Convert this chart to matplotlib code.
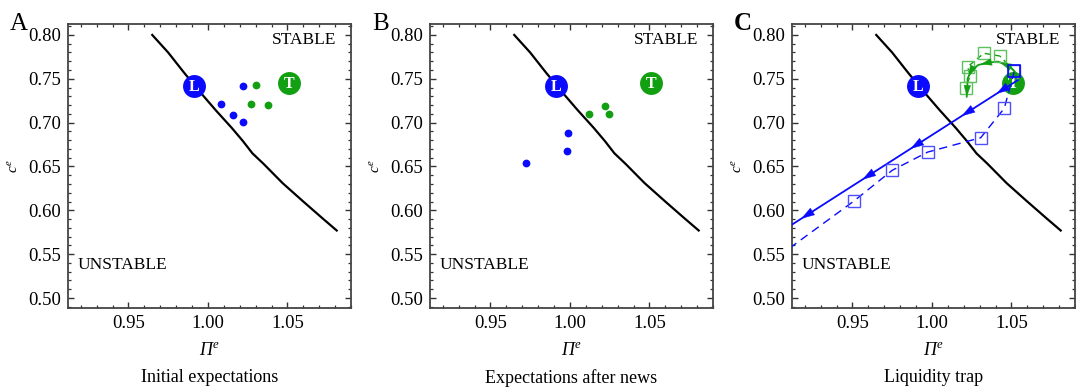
"""Three phase-diagram panels: expectations (Pi^e, c^e) against the stability boundary."""

import matplotlib

matplotlib.use("Agg")
import matplotlib.pyplot as plt  # noqa: E402
import numpy as np  # noqa: E402
from matplotlib.ticker import MultipleLocator  # noqa: E402

plt.rcParams["font.family"] = ["Liberation Serif", "DejaVu Serif"]
# italic everywhere in math, so the capital Pi comes out slanted too
plt.rcParams["mathtext.fontset"] = "custom"
plt.rcParams["mathtext.rm"] = "Liberation Serif:italic"
plt.rcParams["mathtext.it"] = "Liberation Serif:italic"

BLUE = "#0a0aff"
GREEN = "#12a012"

# stability boundary
bound_pi = [0.965, 0.975, 0.985, 0.995, 1.005, 1.015, 1.022, 1.028, 1.035, 1.047, 1.06, 1.072, 1.081]
bound_c = [0.800, 0.780, 0.757, 0.735, 0.714, 0.694, 0.679, 0.665, 0.653, 0.631, 0.610, 0.591, 0.577]

# steady states
L_pt = (0.991, 0.742)
T_pt = (1.051, 0.745)

# panel A
a_blue_pi = [1.0219, 1.0083, 1.0160, 1.0221]
a_blue_c = [0.7418, 0.7212, 0.7087, 0.7010]
a_green_pi = [1.0304, 1.0273, 1.0381]
a_green_c = [0.7426, 0.7208, 0.7197]

# panel B
b_blue_pi = [0.9723, 0.9979, 0.9990]
b_blue_c = [0.6535, 0.6680, 0.6885]
b_green_pi = [1.0117, 1.0219, 1.0246]
b_green_c = [0.7095, 0.7190, 0.7095]

# panel C: liquidity trap paths
c_blue_path_pi = [1.0541, 0.900]
c_blue_path_c = [0.7486, 0.5698]
c_blue_arrow_pi = [1.0406, 1.0187, 0.9865, 0.9563, 0.9178]

c_blue_sq_pi = [1.0519, 1.0455, 1.0307, 0.9973, 0.9750, 0.9509, 0.900]
c_blue_sq_c = [0.7589, 0.7163, 0.6828, 0.6664, 0.6456, 0.6105, 0.543]

c_green_path_pi = [1.0531, 1.0490, 1.0417, 1.0354, 1.0292, 1.0250, 1.0225, 1.0219]
c_green_path_c = [0.7563, 0.7638, 0.7696, 0.7684, 0.7658, 0.7600, 0.7506, 0.7296]

c_green_sq_pi = [1.0519, 1.0427, 1.0327, 1.0225, 1.0240, 1.0213]
c_green_sq_c = [0.7589, 0.7760, 0.7791, 0.7638, 0.7532, 0.7398]

panel_letters = ["A", "B", "C"]
subtitles = ["Initial expectations", "Expectations after news", "Liquidity trap"]


def arrow_at(ax, x0, y0, x1, y1, color, size=11):
    """Arrowhead with its tip at (x1, y1), pointing away from (x0, y0)."""
    ax.annotate("", xy=(x1, y1), xytext=(x0, y0),
                arrowprops=dict(arrowstyle="-|>,head_length=0.7,head_width=0.22",
                                color=color, lw=0.3,
                                mutation_scale=size, shrinkA=0, shrinkB=0),
                zorder=6)


def base_axes(ax, letter, subtitle):
    ax.plot(bound_pi, bound_c, color="black", lw=1.6, zorder=2)
    for (x, y), lab, col in [(L_pt, "L", BLUE), (T_pt, "T", GREEN)]:
        ax.plot(x, y, "o", ms=16.5, color=col, mec="none", zorder=3)
        ax.text(x, y - 0.001, lab, color="white", fontsize=11.5, fontweight="bold",
                ha="center", va="center", zorder=4)
    ax.set_xlim(0.912, 1.090)
    ax.set_ylim(0.4886, 0.8125)
    ax.xaxis.set_major_locator(MultipleLocator(0.05))
    ax.xaxis.set_minor_locator(MultipleLocator(0.01))
    ax.yaxis.set_major_locator(MultipleLocator(0.05))
    ax.yaxis.set_minor_locator(MultipleLocator(0.01))
    ax.xaxis.set_major_formatter(lambda v, p: f"{v:.2f}")
    ax.yaxis.set_major_formatter(lambda v, p: f"{v:.2f}")
    ax.tick_params(which="both", direction="in", top=True, right=True, color="#333333",
                   labelsize=13.5, pad=5)
    ax.tick_params(which="major", length=4.5, width=1.0)
    ax.tick_params(which="minor", length=2.5, width=0.9)
    for s in ax.spines.values():
        s.set_color("#444444")
        s.set_linewidth(1.3)
    ax.set_xlabel(r"$Π^{e}$", fontsize=13, labelpad=7)
    ax.set_ylabel(r"$c^{e}$", fontsize=11, labelpad=5)
    ax.text(0.947, 0.944, "STABLE", transform=ax.transAxes, ha="right", va="center", fontsize=12.5)
    ax.text(0.035, 0.151, "UNSTABLE", transform=ax.transAxes, ha="left", va="center", fontsize=12.5)
    ax.text(0.5, -0.245, subtitle, transform=ax.transAxes, ha="center", va="center", fontsize=13)
    ax.text(-0.205, 1.0, letter, transform=ax.transAxes, ha="left", va="center", fontsize=18,
            fontweight="bold" if letter == "C" else "normal")


fig = plt.figure(figsize=(10.76, 3.89), dpi=100)
lefts = [68, 430, 792]
axes = [fig.add_axes([l / 1076, 1 - 308 / 389, 283 / 1076, 284 / 389]) for l in lefts]

for ax, letter, sub in zip(axes, panel_letters, subtitles):
    base_axes(ax, letter, sub)

# panel A
axes[0].plot(a_blue_pi, a_blue_c, "o", ms=5.6, color=BLUE, mec="none", zorder=5)
axes[0].plot(a_green_pi, a_green_c, "o", ms=5.6, color=GREEN, mec="none", zorder=5)

# panel B
axes[1].plot(b_blue_pi, b_blue_c, "o", ms=5.6, color=BLUE, mec="none", zorder=5)
axes[1].plot(b_green_pi, b_green_c, "o", ms=5.6, color=GREEN, mec="none", zorder=5)

# panel C
ax = axes[2]
ax.plot(c_blue_path_pi, c_blue_path_c, color=BLUE, lw=1.3, zorder=5)
xs = np.array(c_blue_path_pi[::-1])
ys = np.array(c_blue_path_c[::-1])
for xa in c_blue_arrow_pi:
    ya = np.interp(xa, xs, ys)
    xb = xa + 0.010
    yb = np.interp(xb, xs, ys)
    arrow_at(ax, xb, yb, xa, ya, BLUE, size=13)

ax.plot(c_blue_sq_pi, c_blue_sq_c, color=BLUE, lw=1.0, ls=(0, (6, 4)), zorder=5,
        marker="s", ms=8, mfc="none", mec="#4f4fff", mew=1.0)

ax.plot(c_green_path_pi, c_green_path_c, color=GREEN, lw=1.3, zorder=5)
for i in [1, 3, 5]:
    x0, y0 = c_green_path_pi[i], c_green_path_c[i]
    x1, y1 = c_green_path_pi[i + 1], c_green_path_c[i + 1]
    arrow_at(ax, x0, y0, x0 + 0.8 * (x1 - x0), y0 + 0.8 * (y1 - y0), GREEN, size=11)
x0, y0 = c_green_path_pi[-2], c_green_path_c[-2]
x1, y1 = c_green_path_pi[-1], c_green_path_c[-1]
arrow_at(ax, x0, y0, x1, y1, GREEN, size=11)

ax.plot(c_green_sq_pi[:2], c_green_sq_c[:2], color=GREEN, lw=1.0, ls=(0, (4, 3)), zorder=5)
ax.plot(c_green_sq_pi[1:], c_green_sq_c[1:], color=GREEN, lw=1.0, ls=(0, (4, 3)), zorder=5,
        marker="s", ms=8, mfc="none", mec="#5fc05f", mew=1.0)
ax.plot(c_blue_sq_pi[0], c_blue_sq_c[0], "s", ms=8, mfc="none", mec=BLUE, mew=1.2, zorder=7)

fig.savefig("out.png", dpi=100)
